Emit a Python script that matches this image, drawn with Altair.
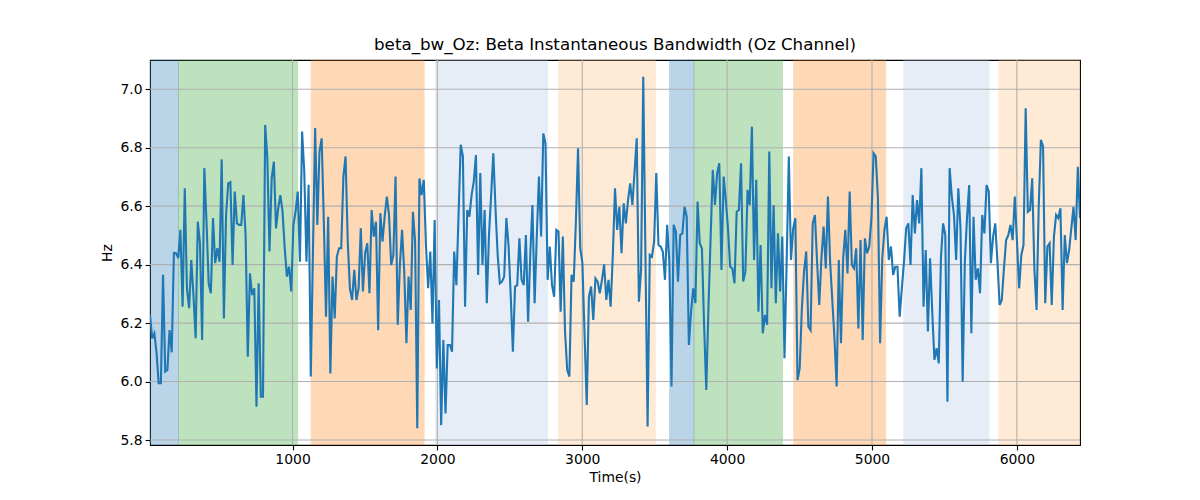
import altair as alt
import pandas as pd

# Beta instantaneous bandwidth (Hz), one sample every 15 s starting at t=16 s
seg1 = [6.228, 6.148, 6.165, 6.10, 5.994, 5.994, 6.365, 6.034, 6.040, 6.176,
        6.10, 6.44, 6.439, 6.422, 6.519, 6.256, 6.661, 6.319, 6.251, 6.416,
        6.296, 6.148, 6.547, 6.473, 6.142, 6.730, 6.547, 6.336, 6.302, 6.559,
        6.405, 6.456, 6.410, 6.760, 6.216, 6.570, 6.678, 6.682, 6.399, 6.650,
        6.541, 6.536, 6.536, 6.638, 6.501, 6.085, 6.370, 6.296, 6.319, 5.914,
        6.336, 5.948, 5.948, 6.878, 6.764, 6.445, 6.695, 6.752, 6.524, 6.593,
        6.638, 6.581, 6.456, 6.359, 6.393, 6.308, 6.536, 6.581, 6.650, 6.410]
seg2 = [6.855, 6.718, 6.410, 6.673, 6.017, 6.45, 6.867, 6.536, 6.787, 6.832,
        6.547, 6.222, 6.564, 6.028, 6.359, 6.216, 6.427, 6.456, 6.456, 6.701,
        6.770, 6.479, 6.319, 6.279, 6.382, 6.279, 6.319, 6.524, 6.308, 6.439,
        6.473, 6.302, 6.587, 6.496, 6.547, 6.176, 6.576, 6.479, 6.564, 6.633,
        6.570, 6.399, 6.433, 6.701, 6.194, 6.399, 6.519, 6.376, 6.131, 6.359,
        6.245, 6.581, 6.479, 5.840, 6.695, 6.638, 6.690, 6.467, 6.319, 6.445,
        6.199, 6.553, 6.045, 6.279, 5.851, 6.142, 5.891, 6.125, 6.125, 6.102,
        6.445]
seg3 = [6.330, 6.570, 6.810, 6.770, 6.256, 6.587, 6.564, 6.638, 6.684, 6.775,
        6.365, 6.713, 6.399, 6.587, 6.268, 6.501, 6.638, 6.781, 6.593, 6.433,
        6.336, 6.342, 6.359, 6.559, 6.467, 6.296, 6.102, 6.325, 6.330, 6.490,
        6.348, 6.330, 6.501, 6.205, 6.433, 6.604, 6.268, 6.496, 6.701, 6.496,
        6.849, 6.815, 6.348, 6.462, 6.330, 6.290, 6.519, 6.513, 6.239, 6.496,
        6.171, 6.040, 6.017, 6.365, 6.342, 6.547, 6.798, 6.456, 6.405, 6.159,
        5.920, 6.290, 6.325, 6.211, 6.353, 6.342, 6.302, 6.348, 6.401, 6.279,
        6.348, 6.256]
seg4 = [6.433, 6.661, 6.519, 6.598, 6.439, 6.610, 6.541, 6.621, 6.678, 6.604,
        6.718, 6.832, 6.273, 6.382, 7.043, 6.433, 5.846, 6.433, 6.427, 6.479,
        6.713, 6.467, 6.462, 6.445, 6.348, 6.536, 6.410, 5.983, 6.536, 6.513,
        6.342, 6.501, 6.507, 6.598, 6.564, 6.125, 6.239, 6.319, 6.268, 6.616,
        6.473, 6.456, 6.194, 5.971, 6.251, 6.490, 6.724, 6.604, 6.713, 6.747,
        6.382, 6.701, 6.621, 6.524, 6.393, 6.387, 6.336, 6.581, 6.587, 6.747,
        6.342, 6.376, 6.656, 6.604, 6.872, 6.416, 6.690, 6.239, 6.467, 6.165,
        6.228]
seg5 = [6.194, 6.787, 6.319, 6.604, 6.268, 6.507, 6.308, 6.496, 6.080, 6.410,
        6.770, 6.416, 6.524, 6.559, 6.005, 6.045, 6.251, 6.376, 6.445, 6.188,
        6.176, 6.541, 6.570, 6.410, 6.262, 6.422, 6.530, 6.387, 6.633, 6.410,
        6.279, 6.148, 5.983, 6.416, 6.131, 6.422, 6.519, 6.370, 6.650, 6.399,
        6.387, 6.456, 6.182, 6.484, 6.142, 6.490, 6.439, 6.462, 6.559, 6.781,
        6.770, 6.627, 6.131, 6.422, 6.519, 6.564, 6.416, 6.462, 6.365, 6.393,
        6.393, 6.222, 6.319, 6.410, 6.524, 6.541, 6.399, 6.638, 6.507, 6.621,
        6.541]
seg6 = [6.730, 6.256, 6.450, 6.171, 6.422, 6.239, 6.074, 6.114, 6.062, 6.422,
        6.541, 6.501, 5.931, 6.730, 6.633, 6.570, 6.416, 6.661, 6.524, 5.999,
        6.410, 6.559, 6.672, 6.165, 6.564, 6.348, 6.387, 6.302, 6.570, 6.507,
        6.672, 6.650, 6.405, 6.496, 6.541, 6.410, 6.262, 6.279, 6.387, 6.484,
        6.501, 6.536, 6.484, 6.633, 6.479, 6.319, 6.433, 6.467, 6.935, 6.581,
        6.587, 6.695, 6.387, 6.245, 6.598, 6.827, 6.804, 6.268, 6.462, 6.473,
        6.262, 6.496, 6.570, 6.559, 6.593, 6.245, 6.501, 6.405, 6.450, 6.524,
        6.598, 6.484, 6.735, 6.559]

bw = seg1 + seg2 + seg3 + seg4 + seg5 + seg6
t_start, t_step = 16, 15
time_s = [t_start + t_step * i for i in range(len(bw))]

# Shaded epochs
span_start = [16, 212, 1129, 1988, 2836, 3603, 3771, 4460, 5220, 5877]
span_end = [212, 1035, 1908, 2760, 3504, 3771, 4382, 5094, 5808, 6444]
span_color = ["#1f77b4", "#2ca02c", "#ff7f0e", "#aec7e8", "#ffbb78",
              "#1f77b4", "#2ca02c", "#ff7f0e", "#aec7e8", "#ffbb78"]

x_ticks = [1000, 2000, 3000, 4000, 5000, 6000]
y_ticks = [5.8, 6.0, 6.2, 6.4, 6.6, 6.8, 7.0]

df = pd.DataFrame({"t": time_s, "bw": bw})
spans = pd.DataFrame({"start": span_start, "end": span_end, "color": span_color})
xg = pd.DataFrame({"v": x_ticks})
yg = pd.DataFrame({"v": y_ticks})

W, H = 930, 385
FONT = "DejaVu Sans"
xs = alt.Scale(domain=[16, 6436], nice=False, zero=False)
ys = alt.Scale(domain=[5.783, 7.1], nice=False, zero=False)

x_axis = alt.Axis(
    values=x_ticks, format="d", title="Time(s)", grid=False, domain=False,
    labelFont=FONT, labelFontSize=13.9, labelColor="black",
    tickColor="black", tickSize=4.9, tickWidth=1.1, labelPadding=3,
    titleFont=FONT, titleFontSize=13.9, titleFontWeight="normal",
    titleColor="black", titlePadding=4, labelFlush=False)
y_axis = alt.Axis(
    values=y_ticks, format=".1f", title="Hz", grid=False, domain=False,
    labelFont=FONT, labelFontSize=13.9, labelColor="black",
    tickColor="black", tickSize=4.9, tickWidth=1.1, labelPadding=3,
    titleFont=FONT, titleFontSize=13.9, titleFontWeight="normal",
    titleColor="black", titlePadding=6, labelFlush=False)

span_layer = alt.Chart(spans).mark_rect(opacity=0.3, strokeWidth=1, clip=True).encode(
    x=alt.X("start:Q", scale=xs, axis=x_axis),
    x2="end:Q",
    color=alt.Color("color:N", scale=None),
    stroke=alt.Stroke("color:N", scale=None),
)

xgrid = alt.Chart(xg).mark_rule(color="#b0b0b0", strokeWidth=1.1).encode(
    x=alt.X("v:Q", scale=xs, axis=x_axis)
)
ygrid = alt.Chart(yg).mark_rule(color="#b0b0b0", strokeWidth=1.1).encode(
    y=alt.Y("v:Q", scale=ys, axis=y_axis)
)

line = alt.Chart(df).mark_line(color="#1f77b4", strokeWidth=2.1, clip=True).encode(
    x=alt.X("t:Q", scale=xs, axis=x_axis),
    y=alt.Y("bw:Q", scale=ys, axis=y_axis),
)

chart = alt.layer(span_layer, xgrid, ygrid, line).properties(
    width=W, height=H,
    title=alt.TitleParams(
        "beta_bw_Oz: Beta Instantaneous Bandwidth (Oz Channel)",
        font=FONT, fontSize=16.7, fontWeight="normal", color="black",
        anchor="middle", offset=6),
    autosize=alt.AutoSizeParams(type="none"),
    padding={"left": 142, "top": 52, "right": 112, "bottom": 47},
    background="white",
).configure_view(stroke="black", strokeWidth=1.1)

chart.save("out.html", embed_options={"renderer": "svg", "actions": False})
